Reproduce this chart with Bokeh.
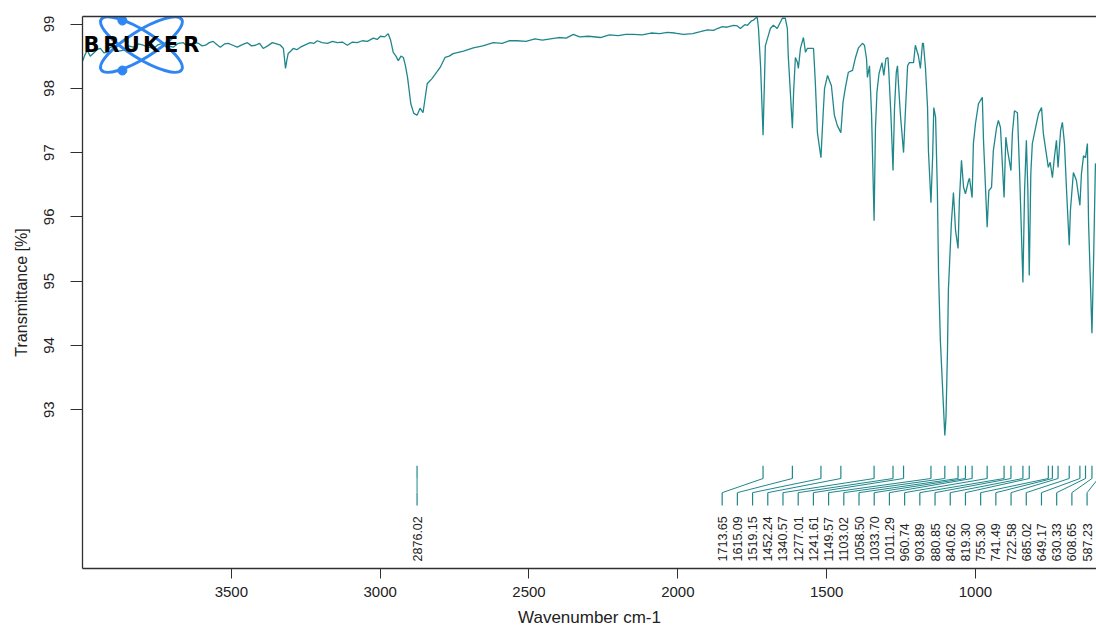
import math
import numpy as np
from bokeh.plotting import figure
from bokeh.models import Range1d, FixedTicker, LinearAxis
from bokeh.core.properties import value
from bokeh.embed import file_html
from bokeh.resources import INLINE

# ---------------- data ----------------
wavenumber = [
    3999, 3992, 3984, 3974, 3964, 3952, 3940, 3928, 3917, 3907, 3897, 3880, 3863, 3846, 3829,
    3812, 3796, 3779, 3762, 3745, 3729, 3712, 3695, 3678, 3661, 3650, 3638, 3624, 3611, 3598,
    3587, 3574, 3561, 3549, 3537, 3523, 3510, 3495, 3480, 3463, 3446, 3432, 3419, 3405, 3393,
    3378, 3362, 3348, 3335, 3325, 3318, 3313, 3309, 3300, 3292, 3280, 3268, 3250, 3235, 3222,
    3211, 3195, 3177, 3160, 3144, 3127, 3110, 3093, 3077, 3060, 3043, 3023, 3010, 2999, 2985,
    2973, 2965, 2956, 2947, 2939, 2930, 2922, 2915, 2908, 2897, 2887, 2876, 2866, 2856, 2842,
    2826, 2810, 2799, 2782, 2768, 2755, 2720, 2687, 2655, 2620, 2590, 2565, 2539, 2510, 2480,
    2455, 2428, 2400, 2375, 2351, 2330, 2300, 2260, 2230, 2200, 2175, 2149, 2120, 2090, 2060,
    2035, 2010, 1981, 1950, 1924, 1900, 1880, 1867, 1850, 1835, 1813, 1800, 1790, 1775, 1766,
    1752, 1746, 1739, 1733, 1729, 1722, 1713.65, 1709, 1706, 1696, 1689, 1679, 1666, 1649, 1639,
    1632, 1629, 1615.09, 1611, 1605, 1598, 1595, 1588, 1578, 1571, 1565, 1554, 1544, 1538, 1531,
    1519.15, 1512, 1507, 1497, 1484, 1474, 1464, 1452.24, 1445, 1437, 1427, 1413, 1403, 1393, 1380,
    1373, 1366, 1363, 1356, 1349, 1340.57, 1336, 1331, 1324, 1314, 1308, 1301, 1294, 1291, 1284,
    1277.01, 1272, 1266, 1262, 1259, 1252, 1241.61, 1236, 1228, 1222, 1208, 1202, 1192, 1185, 1178,
    1175, 1168, 1161, 1158, 1149.57, 1144, 1140, 1134, 1128, 1124, 1118, 1103.02, 1099, 1094, 1091,
    1081, 1074, 1067, 1058.50, 1054, 1047, 1040, 1033.70, 1023, 1020, 1011.29, 1007, 1000, 990, 977,
    973, 960.74, 955, 946, 940, 929, 923, 916, 903.89, 898, 892, 880.85, 876, 869, 859,
    852, 840.62, 835, 829, 824, 819.30, 814, 809, 798, 788, 778, 772, 755.30, 749, 741.49,
    735, 728, 722.58, 714, 708, 701, 694, 685.02, 681, 671, 661, 649.17, 644, 637, 630.33,
    624, 620, 608.65, 603, 597, 590, 583,
]
transmittance = [
    98.43, 98.52, 98.59, 98.50, 98.54, 98.60, 98.62, 98.55, 98.56, 98.64, 98.64, 98.58, 98.59, 98.66, 98.64,
    98.69, 98.67, 98.64, 98.62, 98.68, 98.70, 98.66, 98.64, 98.70, 98.71, 98.66, 98.67, 98.72, 98.70, 98.66,
    98.67, 98.71, 98.73, 98.68, 98.64, 98.69, 98.70, 98.67, 98.64, 98.68, 98.71, 98.66, 98.67, 98.70, 98.62,
    98.66, 98.71, 98.69, 98.67, 98.62, 98.31, 98.45, 98.54, 98.58, 98.62, 98.60, 98.64, 98.68, 98.71, 98.70,
    98.74, 98.71, 98.70, 98.73, 98.71, 98.72, 98.67, 98.72, 98.71, 98.74, 98.73, 98.78, 98.76, 98.81, 98.80,
    98.85, 98.75, 98.56, 98.50, 98.43, 98.50, 98.48, 98.35, 98.17, 97.76, 97.61, 97.58, 97.69, 97.62, 98.07,
    98.15, 98.25, 98.32, 98.48, 98.50, 98.54, 98.58, 98.63, 98.66, 98.71, 98.70, 98.74, 98.74, 98.73, 98.77,
    98.75, 98.77, 98.79, 98.78, 98.84, 98.80, 98.81, 98.79, 98.83, 98.82, 98.84, 98.84, 98.83, 98.86, 98.85,
    98.87, 98.86, 98.84, 98.85, 98.88, 98.91, 98.90, 98.93, 98.96, 98.95, 98.98, 98.97, 98.93, 98.99, 98.98,
    99.05, 99.06, 99.09, 99.10, 98.93, 98.35, 97.27, 98.09, 98.66, 98.82, 98.93, 98.98, 98.93, 99.09, 99.09,
    98.93, 98.51, 97.38, 97.94, 98.48, 98.40, 98.31, 98.62, 98.79, 98.56, 98.62, 98.62, 98.62, 98.09, 97.31,
    96.92, 97.58, 98.00, 98.20, 98.04, 97.58, 97.42, 97.31, 97.78, 98.01, 98.25, 98.28, 98.48, 98.63, 98.70,
    98.67, 98.46, 98.17, 98.35, 97.58, 95.94, 97.38, 97.94, 98.23, 98.40, 98.20, 98.46, 98.48, 98.25, 97.58,
    96.72, 97.69, 98.25, 98.35, 98.09, 97.58, 97.00, 97.58, 98.35, 98.40, 98.40, 98.67, 98.51, 98.31, 98.70,
    98.70, 98.32, 97.70, 97.03, 96.22, 96.92, 97.70, 97.55, 96.41, 95.12, 94.08, 92.60, 92.88, 93.92, 94.86,
    95.90, 96.38, 95.79, 95.51, 96.26, 96.88, 96.46, 96.36, 96.57, 96.60, 96.30, 97.14, 97.45, 97.76, 97.86,
    97.19, 95.84, 96.41, 96.46, 97.03, 97.39, 97.50, 97.39, 96.30, 97.24, 97.03, 96.72, 97.30, 97.65, 97.62,
    96.72, 94.98, 96.41, 97.19, 96.41, 95.09, 96.68, 97.14, 97.39, 97.61, 97.70, 97.30, 96.77, 96.85, 96.61,
    96.92, 97.19, 96.77, 97.34, 97.47, 97.14, 96.41, 95.56, 96.10, 96.69, 96.57, 96.18, 96.67, 96.95, 96.92,
    97.14, 95.90, 94.19, 95.37, 96.83, 96.70, 95.90,
]

peak_positions = [2876.02, 1713.65, 1615.09, 1519.15, 1452.24, 1340.57, 1277.01, 1241.61,
                  1149.57, 1103.02, 1058.50, 1033.70, 1011.29, 960.74, 903.89, 880.85,
                  840.62, 819.30, 755.30, 741.49, 722.58, 685.02, 649.17, 630.33,
                  608.65, 587.23]
peak_labels = ["%.2f" % v for v in peak_positions]

x_ticks = [3500, 3000, 2500, 2000, 1500, 1000, 500]
y_ticks = [93, 94, 95, 96, 97, 98, 99]

TEAL = "#1f878b"
FONT = "Liberation Sans"
AXC = "#303030"

p = figure(width=1096, height=630,
           x_range=Range1d(4000, 593.4), y_range=Range1d(90.53, 99.117),
           output_backend="svg", toolbar_location=None,
           min_border_left=82, min_border_right=0, min_border_top=16, min_border_bottom=62)
p.grid.visible = False
p.outline_line_color = None

# spectrum
p.line(wavenumber, transmittance, line_color=TEAL, line_width=1.3)

# peak annotation (markers, connector lines, labels)
n_fan = len(peak_positions) - 1
label_x = [peak_positions[0]] + list(np.linspace(1851, 625, n_fan))
mark_top, mark_bot, fan_end, stub_end, text_base = 92.13, 91.93, 91.71, 91.51, 90.64
p.segment(x0=peak_positions, y0=[mark_top] * len(peak_positions),
          x1=peak_positions, y1=[mark_bot] * len(peak_positions),
          line_color=TEAL, line_width=1.2)
p.segment(x0=peak_positions, y0=[mark_bot] * len(peak_positions),
          x1=label_x, y1=[fan_end] * len(peak_positions),
          line_color=TEAL, line_width=1.0)
p.segment(x0=label_x, y0=[fan_end] * len(peak_positions),
          x1=label_x, y1=[stub_end] * len(peak_positions),
          line_color=TEAL, line_width=1.2)
p.text(x=label_x, y=[text_base] * len(peak_positions), text=peak_labels,
       angle=math.pi / 2, text_align="left", text_baseline="middle",
       text_font=value(FONT), text_font_size="12.5px", text_color="#222222")

# Bruker logo
p.ellipse(x=[3802, 3802], y=[98.68, 98.68], width=[95, 95], height=[27, 27],
          angle=[0.56, -0.56], width_units="screen", height_units="screen",
          fill_alpha=0, line_color="#2f86f2", line_width=3)
p.scatter(x=[3866, 3866], y=[99.054, 98.277], size=9, marker="circle",
          fill_color="#2f86f2", line_color="#2f86f2")
logo_letters = ["B", "R", "U", "K", "E", "R"]
p.text(x=[3970, 3903, 3836, 3769, 3702, 3634], y=[98.666] * 6, text=logo_letters,
       text_align="center", text_baseline="middle", text_font=value("DejaVu Sans"),
       text_font_style="bold", text_font_size="21px", text_color="#000000")

# axes
xax = p.below[0]
yax = p.left[0]
for ax in (xax, yax):
    ax.axis_line_color = AXC
    ax.axis_line_width = 1.3
    ax.major_tick_line_color = AXC
    ax.minor_tick_line_color = None
    ax.major_tick_in = 0
    ax.major_label_text_font = FONT
    ax.major_label_text_color = "#222222"
    ax.axis_label_text_font = FONT
    ax.axis_label_text_font_style = "normal"
    ax.axis_label_text_color = "#222222"

xax.ticker = FixedTicker(ticks=x_ticks)
xax.major_tick_out = 10
xax.major_label_standoff = 8
xax.major_label_text_font_size = "15px"
xax.axis_label = "Wavenumber cm-1"
xax.axis_label_text_font_size = "17px"
xax.axis_label_standoff = 8

yax.ticker = FixedTicker(ticks=y_ticks)
yax.major_tick_out = 12
yax.major_label_orientation = "vertical"
yax.major_label_standoff = 16
yax.major_label_text_font_size = "15px"
yax.axis_label = "Transmittance [%]"
yax.axis_label_text_font_size = "16px"
yax.axis_label_standoff = 12

# top frame line (no right edge visible in the reference)
top_axis = LinearAxis(ticker=FixedTicker(ticks=[]), axis_line_color=AXC,
                      axis_line_width=1.3, major_label_text_font_size="0px",
                      major_tick_line_color=None, minor_tick_line_color=None,
                      major_label_standoff=0)
p.add_layout(top_axis, "above")

open("out.html", "w").write(file_html(p, INLINE))
